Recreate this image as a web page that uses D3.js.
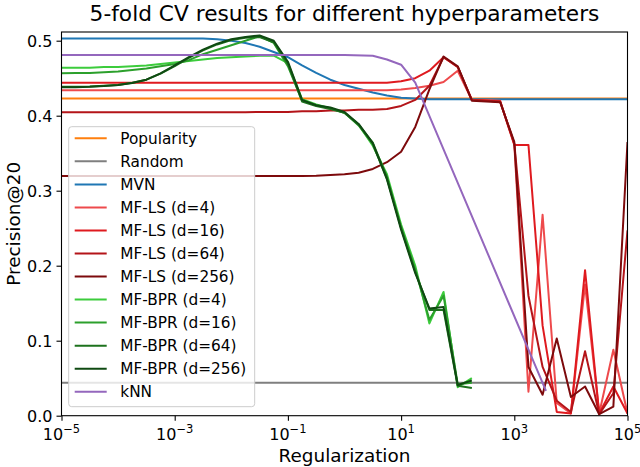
<!DOCTYPE html>
<html>
<head>
<meta charset="utf-8">
<script src="https://cdn.jsdelivr.net/npm/d3@7"></script>
<style>
  body { margin: 0; background: #fff; }
  text { font-family: "DejaVu Sans", sans-serif; fill: #000; }
</style>
</head>
<body>
<div id="chart"></div>
<script>
// regularization grid, as log10 exponents
var gridLS = [-5, -4.75, -4.5, -4.25, -4, -3.75, -3.5, -3.25, -3, -2.75, -2.5, -2.25, -2, -1.75, -1.5, -1.25, -1, -0.75, -0.5, -0.25,
	0, 0.25, 0.5, 0.75, 1, 1.25, 1.5, 1.75, 2, 2.25, 2.5, 2.75, 3, 3.25, 3.5, 3.75, 4, 4.25, 4.5, 4.75, 5];
var gridBPR = [-5, -4.75, -4.5, -4.25, -4, -3.75, -3.5, -3.25, -3, -2.75, -2.5, -2.25, -2, -1.75, -1.5, -1.25, -1, -0.75, -0.5, -0.25,
	0, 0.25, 0.5, 0.75, 1, 1.25, 1.5, 1.75, 2, 2.25];
var gridFlat = [-5, 5];
var gridKNN = [-5, 0, 0.5, 0.75, 1, 1.25, 3.56];

var popularity = [0.423, 0.423];
var random = [0.044, 0.044];
var mvn = [0.503, 0.503, 0.503, 0.503, 0.503, 0.503, 0.503, 0.503, 0.503, 0.503, 0.503, 0.502, 0.5, 0.497, 0.492, 0.485, 0.478, 0.467, 0.457, 0.448,
	0.441, 0.436, 0.431, 0.427, 0.424, 0.423, 0.422, 0.422, 0.422, 0.422, 0.422, 0.422, 0.422, 0.422, 0.422, 0.422, 0.422, 0.422, 0.422, 0.422, 0.422];
var ls4 = [0.434, 0.434, 0.434, 0.434, 0.434, 0.434, 0.434, 0.434, 0.434, 0.434, 0.434, 0.434, 0.434, 0.434, 0.434, 0.434, 0.434, 0.434, 0.434, 0.434,
	0.434, 0.434, 0.434, 0.434, 0.435, 0.437, 0.44, 0.445, 0.46, 0.421, 0.421, 0.42, 0.362, 0.032, 0.268, 0.017, 0.003, 0.175, 0.003, 0.088, 0.003];
var ls16 = [0.444, 0.444, 0.444, 0.444, 0.444, 0.444, 0.444, 0.444, 0.444, 0.444, 0.444, 0.444, 0.444, 0.444, 0.444, 0.444, 0.444, 0.444, 0.444, 0.444,
	0.444, 0.444, 0.444, 0.444, 0.446, 0.45, 0.46, 0.478, 0.465, 0.421, 0.42, 0.419, 0.361, 0.361, 0.12, 0.005, 0.003, 0.194, 0.003, 0.039, 0.003];
var ls64 = [0.4045, 0.4045, 0.4045, 0.4045, 0.4045, 0.4045, 0.4045, 0.4045, 0.4045, 0.4045, 0.4045, 0.4045, 0.4045, 0.4045, 0.405, 0.405, 0.405, 0.406, 0.406, 0.407,
	0.407, 0.408, 0.408, 0.409, 0.413, 0.421, 0.44, 0.478, 0.465, 0.421, 0.42, 0.419, 0.363, 0.16, 0.065, 0.02, 0.005, 0.086, 0.002, 0.03, 0.247];
var ls256 = [0.3195, 0.3195, 0.3195, 0.3195, 0.3195, 0.3195, 0.3195, 0.3195, 0.3195, 0.3195, 0.3195, 0.3195, 0.3195, 0.3195, 0.3195, 0.3195, 0.3195, 0.3195, 0.32, 0.321,
	0.322, 0.324, 0.329, 0.338, 0.352, 0.385, 0.435, 0.479, 0.466, 0.42, 0.419, 0.418, 0.365, 0.065, 0.028, 0.103, 0.025, 0.039, 0.002, 0.012, 0.365];
var bpr4 = [0.464, 0.464, 0.464, 0.465, 0.465, 0.466, 0.467, 0.469, 0.471, 0.473, 0.475, 0.477, 0.478, 0.479, 0.48, 0.48, 0.47, 0.422, 0.415, 0.41,
	0.404, 0.388, 0.36, 0.322, 0.255, 0.2, 0.123, 0.165, 0.038, 0.05];
var bpr16 = [0.4565, 0.457, 0.457, 0.458, 0.459, 0.461, 0.463, 0.466, 0.469, 0.474, 0.482, 0.488, 0.494, 0.5, 0.506, 0.497, 0.466, 0.42, 0.414, 0.41,
	0.404, 0.387, 0.362, 0.316, 0.252, 0.195, 0.128, 0.16, 0.042, 0.044];
var bpr64 = [0.4385, 0.4385, 0.439, 0.44, 0.441, 0.444, 0.448, 0.456, 0.466, 0.477, 0.487, 0.495, 0.501, 0.504, 0.505, 0.498, 0.469, 0.419, 0.413, 0.409,
	0.404, 0.388, 0.364, 0.318, 0.25, 0.192, 0.141, 0.141, 0.04, 0.037];
var bpr256 = [0.438, 0.438, 0.4385, 0.4395, 0.441, 0.4435, 0.448, 0.4565, 0.467, 0.478, 0.488, 0.496, 0.502, 0.505, 0.507, 0.5, 0.472, 0.421, 0.414, 0.411,
	0.405, 0.389, 0.363, 0.315, 0.248, 0.19, 0.143, 0.145, 0.041, 0.047];
var knn = [0.481, 0.481, 0.48, 0.475, 0.468, 0.444, 0.033];

var yTicks = [0.0, 0.1, 0.2, 0.3, 0.4, 0.5];
var xTickExps = [-5, -3, -1, 1, 3, 5];

var series = [
	{name: "Popularity", grid: gridFlat, values: popularity, color: "#ff7f0e"},
	{name: "Random", grid: gridFlat, values: random, color: "#7f7f7f"},
	{name: "MVN", grid: gridLS, values: mvn, color: "#1f77b4"},
	{name: "MF-LS (d=4)", grid: gridLS, values: ls4, color: "#ee4a4c"},
	{name: "MF-LS (d=16)", grid: gridLS, values: ls16, color: "#df1a1f"},
	{name: "MF-LS (d=64)", grid: gridLS, values: ls64, color: "#b41419"},
	{name: "MF-LS (d=256)", grid: gridLS, values: ls256, color: "#7d0a0c"},
	{name: "MF-BPR (d=4)", grid: gridBPR, values: bpr4, color: "#3ccc3c"},
	{name: "MF-BPR (d=16)", grid: gridBPR, values: bpr16, color: "#2ca02c"},
	{name: "MF-BPR (d=64)", grid: gridBPR, values: bpr64, color: "#1d721d"},
	{name: "MF-BPR (d=256)", grid: gridBPR, values: bpr256, color: "#0f4a12"},
	{name: "kNN", grid: gridKNN, values: knn, color: "#9467bd"}
];

var W = 640, H = 467;
var margin = {top: 32, right: 12.5, bottom: 51.3, left: 61.5};
var width = W - margin.left - margin.right;
var height = H - margin.top - margin.bottom;

var svg = d3.select("#chart")
	.append("svg")
		.attr("width", W)
		.attr("height", H);
var g = svg.append("g")
	.attr("transform", "translate(" + margin.left + "," + margin.top + ")");

var x = d3.scaleLog()
	.domain([1e-5, 1e5])
	.range([0, width]);
var y = d3.scaleLinear()
	.domain([0, 0.5116])
	.range([height, 0]);

// clip lines to the plotting area
svg.append("defs").append("clipPath").attr("id", "plotclip")
	.append("rect").attr("width", width).attr("height", height);

var line = d3.line()
	.x(function(d) { return x(Math.pow(10, d[0])); })
	.y(function(d) { return y(d[1]); });

var plot = g.append("g").attr("clip-path", "url(#plotclip)");
series.forEach(function(s) {
	var pts = s.grid.map(function(e, i) { return [e, s.values[i]]; });
	plot.append("path")
		.datum(pts)
		.attr("d", line)
		.attr("fill", "none")
		.attr("stroke", s.color)
		.attr("stroke-width", 2)
		.attr("stroke-linejoin", "round");
});

// axes
var xAxis = g.append("g")
	.attr("transform", "translate(0," + height + ")")
	.call(d3.axisBottom(x).tickValues(xTickExps.map(function(e) { return Math.pow(10, e); })).tickSize(5).tickFormat(""));
var yAxis = g.append("g")
	.call(d3.axisLeft(y).tickValues(yTicks).tickSize(5).tickFormat(""));
[xAxis, yAxis].forEach(function(a) {
	a.select(".domain").remove();
	a.selectAll(".tick line").attr("stroke", "#000").attr("stroke-width", 1.1);
});

// x tick labels with superscripts
xTickExps.forEach(function(e) {
	var t = g.append("text")
		.attr("x", x(Math.pow(10, e)))
		.attr("y", height + 24)
		.attr("text-anchor", "middle")
		.style("font-size", "16px");
	t.append("tspan").text("10");
	t.append("tspan")
		.attr("dy", -7)
		.style("font-size", "11.5px")
		.text(e < 0 ? "\u2212" + Math.abs(e) : String(e));
});

yTicks.forEach(function(v) {
	g.append("text")
		.attr("x", -9)
		.attr("y", y(v) + 5.8)
		.attr("text-anchor", "end")
		.style("font-size", "16px")
		.text(v.toFixed(1));
});

// frame
g.append("rect")
	.attr("width", width)
	.attr("height", height)
	.attr("fill", "none")
	.attr("stroke", "#000")
	.attr("stroke-width", 1.1);

// titles
svg.append("text")
	.attr("x", margin.left + width / 2)
	.attr("y", 21)
	.attr("text-anchor", "middle")
	.style("font-size", "21.7px")
	.text("5-fold CV results for different hyperparameters");
svg.append("text")
	.attr("x", margin.left + width / 2)
	.attr("y", 462)
	.attr("text-anchor", "middle")
	.style("font-size", "18.4px")
	.text("Regularization");
svg.append("text")
	.attr("transform", "translate(20," + (margin.top + height / 2) + ")rotate(-90)")
	.attr("text-anchor", "middle")
	.style("font-size", "18.4px")
	.text("Precision@20");

// legend
var legend = g.append("g").attr("transform", "translate(7.2,94.7)");
legend.append("rect")
	.attr("width", 186)
	.attr("height", 280)
	.attr("rx", 3)
	.attr("fill", "#fff")
	.attr("fill-opacity", 0.8)
	.attr("stroke", "#cccccc")
	.attr("stroke-width", 1);
var rows = legend.selectAll("g.row")
	.data(series)
	.enter()
	.append("g")
	.attr("class", "row")
	.attr("transform", function(d, i) { return "translate(0," + (11.6 + i * 23.04) + ")"; });
rows.append("line")
	.attr("x1", 6).attr("x2", 38)
	.attr("stroke", function(d) { return d.color; })
	.attr("stroke-width", 2);
rows.append("text")
	.attr("x", 51.6)
	.attr("y", 5.5)
	.style("font-size", "15.3px")
	.text(function(d) { return d.name; });
</script>
</body>
</html>
